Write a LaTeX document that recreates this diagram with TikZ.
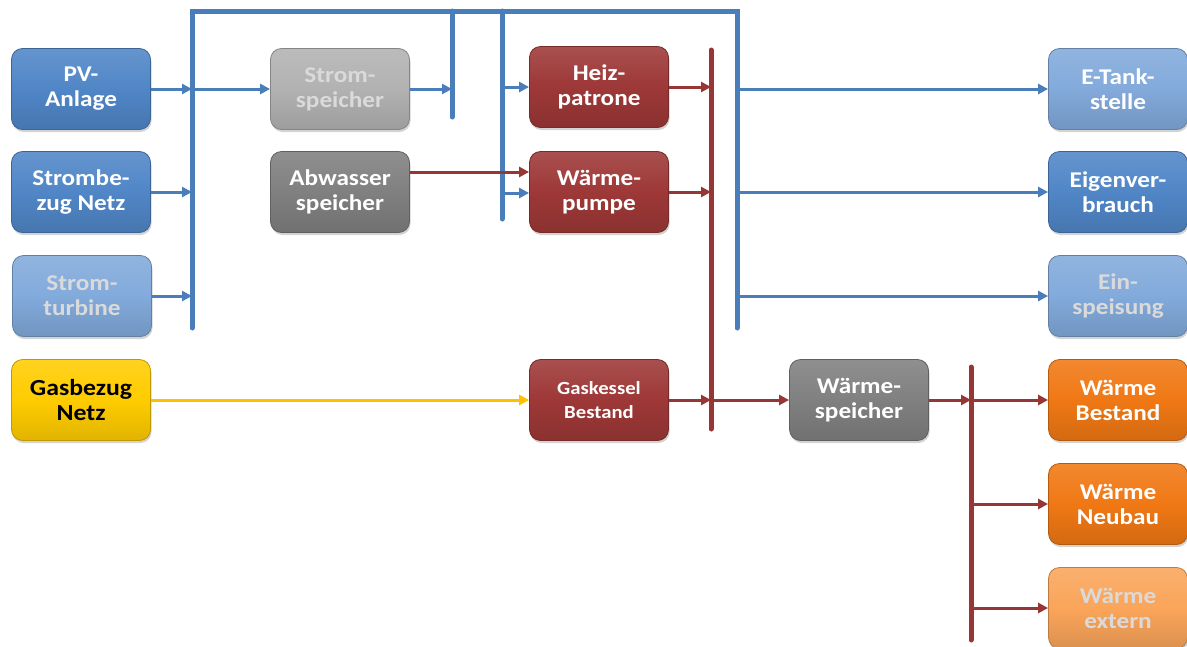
\documentclass[tikz,border=0pt]{standalone}
\usepackage{fontspec}
\setmainfont[FakeStretch=1.12]{Carlito}
\usetikzlibrary{arrows.meta,shadows}
\definecolor{bluebox}{RGB}{80,134,199}
\definecolor{lbluebox}{RGB}{130,170,219}
\definecolor{lgraybox}{RGB}{178,178,178}
\definecolor{dgraybox}{RGB}{128,128,128}
\definecolor{redbox}{RGB}{157,56,55}
\definecolor{yellowbox}{RGB}{255,204,0}
\definecolor{orangebox}{RGB}{240,120,20}
\definecolor{lorangebox}{RGB}{250,165,90}
\definecolor{fadetext}{RGB}{218,218,218}
\definecolor{blueline}{RGB}{74,126,187}
\definecolor{redline}{RGB}{150,55,53}
\definecolor{yellowline}{RGB}{255,192,0}
\tikzset{
  box/.style={rounded corners=11pt, minimum width=139pt, minimum height=81pt,
    align=center, inner sep=0pt, text=white,
    font=\bfseries\fontsize{22.5}{25}\selectfont,
    drop shadow={shadow xshift=1pt, shadow yshift=-2.5pt, opacity=0.35}},
  fillc/.style={top color=#1!88!white, bottom color=#1!88!black, middle color=#1, draw=#1!75!black, line width=0.8pt},
  conn/.style={line width=3pt, -{Triangle[length=10pt,width=10pt]}},
  bus/.style={line width=5pt, line cap=round},
}
\begin{document}
\begin{tikzpicture}[x=1pt,y=-1pt]
\useasboundingbox (0,0) rectangle (1187,646);
% nodes
\node[box, fillc=bluebox] (pv) at (81,89) {PV-\\Anlage};
\node[box, fillc=bluebox] (sbn) at (81,192) {Strombe-\\zug Netz};
\node[box, fillc=lbluebox, text=fadetext] (stt) at (82,296) {Strom-\\turbine};
\node[box, fillc=yellowbox, text=black, font=\bfseries\fontsize{23}{25}\selectfont] (gbn) at (81,400) {Gasbezug\\Netz};
\node[box, fillc=lgraybox, text=fadetext] (ssp) at (340,89) {Strom-\\speicher};
\node[box, fillc=dgraybox] (asp) at (340,192) {Abwasser\\speicher};
\node[box, fillc=redbox] (hp) at (599,87) {Heiz-\\patrone};
\node[box, fillc=redbox] (wp) at (599,192) {Wärme-\\pumpe};
\node[box, fillc=redbox, font=\bfseries\fontsize{18.5}{24}\selectfont] (gk) at (599,400) {Gaskessel\\Bestand};
\node[box, fillc=dgraybox] (wsp) at (859,400) {Wärme-\\speicher};
\node[box, fillc=lbluebox] (et) at (1118,89) {E-Tank-\\stelle};
\node[box, fillc=bluebox] (ev) at (1118,192) {Eigenver-\\brauch};
\node[box, fillc=lbluebox, text=fadetext] (es) at (1118,296) {Ein-\\speisung};
\node[box, fillc=orangebox] (wb) at (1118,400) {Wärme\\Bestand};
\node[box, fillc=orangebox] (wn) at (1118,504) {Wärme\\Neubau};
\node[box, fillc=lorangebox, text=fadetext] (wx) at (1118,608) {Wärme\\extern};
% bus coordinates
\coordinate (b1t) at (192,11);
\coordinate (b1b) at (192,328);
\coordinate (b4t) at (737,11);
\coordinate (b4b) at (737,328);
\coordinate (b2t) at (452,11);
\coordinate (b2b) at (452,117);
\coordinate (b3t) at (502,11);
\coordinate (b3b) at (502,219);
\coordinate (r1t) at (711,50);
\coordinate (r1b) at (711,429);
\coordinate (r2t) at (971,367);
\coordinate (r2b) at (971,640);
% blue buses
\draw[bus, blueline, line join=miter] (b1b) -- (b1t) -- (b4t) -- (b4b);
\draw[bus, blueline] (b2t) -- (b2b);
\draw[bus, blueline] (b3t) -- (b3b);
% red buses
\draw[bus, redline] (r1t) -- (r1b);
\draw[bus, redline] (r2t) -- (r2b);
% blue connectors
\draw[conn, blueline] (pv.east) -- (b1t |- pv.east);
\draw[conn, blueline] (b1t |- ssp.west) -- (ssp.west);
\draw[conn, blueline] (sbn.east) -- (b1t |- sbn.east);
\draw[conn, blueline] (stt.east) -- (b1t |- stt.east);
\draw[conn, blueline] (ssp.east) -- (b2t |- ssp.east);
\draw[conn, blueline] (b3t |- hp.west) -- (hp.west);
\coordinate (wpin) at ([yshift=-1pt]wp.west);
\draw[conn, blueline] (b3t |- wpin) -- (wpin);
\draw[conn, blueline] (b4t |- et.west) -- (et.west);
\draw[conn, blueline] (b4t |- ev.west) -- (ev.west);
\draw[conn, blueline] (b4t |- es.west) -- (es.west);
% red connectors
\coordinate (aspout) at ([yshift=20pt]asp.east);
\draw[conn, redline] (aspout) -- (wp.west |- aspout);
\draw[conn, redline] (hp.east) -- (r1t |- hp.east);
\draw[conn, redline] (wp.east) -- (r1t |- wp.east);
\draw[conn, redline] (gk.east) -- (r1t |- gk.east);
\draw[conn, redline] (r1t |- wsp.west) -- (wsp.west);
\draw[conn, redline] (wsp.east) -- (r2t |- wsp.east);
\draw[conn, redline] (r2t |- wb.west) -- (wb.west);
\draw[conn, redline] (r2t |- wn.west) -- (wn.west);
\draw[conn, redline] (r2t |- wx.west) -- (wx.west);
% yellow connector
\draw[conn, yellowline] (gbn.east) -- (gk.west);
\end{tikzpicture}
\end{document}
